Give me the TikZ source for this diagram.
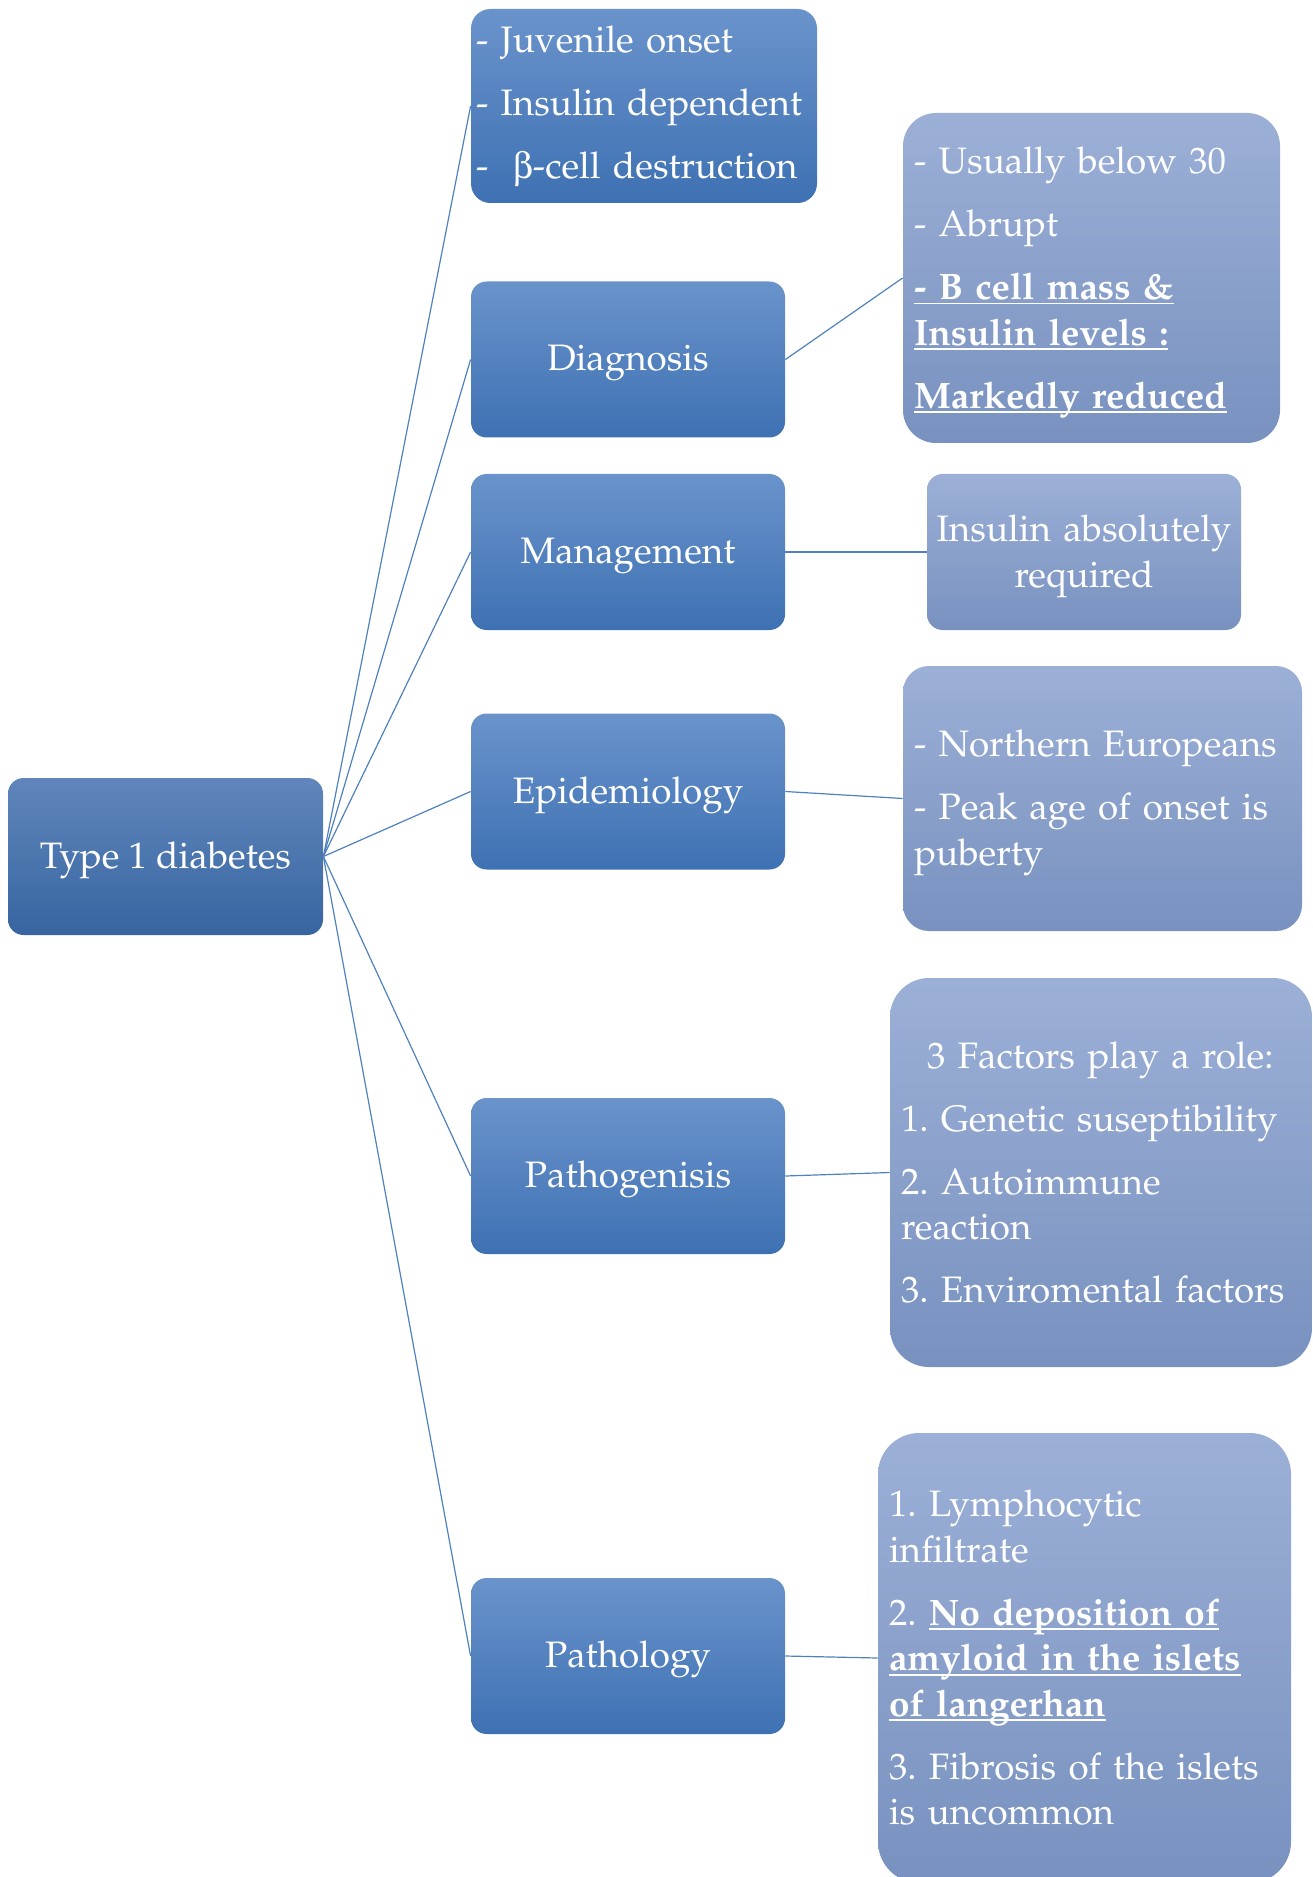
\documentclass[tikz,border=0pt]{standalone}
\usepackage[T1]{fontenc}
\usepackage{mathpazo}
\definecolor{rootTop}{HTML}{6086BC}
\definecolor{rootBot}{HTML}{3765A0}
\definecolor{topicTop}{HTML}{6A93CB}
\definecolor{topicBot}{HTML}{3E71B3}
\definecolor{noteTop}{HTML}{9CB0D7}
\definecolor{noteBot}{HTML}{7891BF}
\definecolor{linkcolor}{HTML}{4F81BD}
% bold underlined text
\newcommand{\bul}[1]{\leavevmode{\bfseries\setbox0\hbox{#1}\rlap{\rule[-2.4pt]{\wd0}{0.9pt}}\box0}}
% upright beta
\newcommand{\upbet}{{\fontencoding{U}\fontfamily{psy}\selectfont b}}
\newcommand{\topstrut}{\rule{0pt}{17.6pt}}

\begin{document}
\begin{tikzpicture}[
  x=1pt, y=-1pt,
  every node/.style={text=white,
    font={\fontsize{18.4}{22.75}\selectfont\frenchspacing\hyphenpenalty=10000}},
  rootbox/.style={rounded corners=7.8pt, top color=rootTop, bottom color=rootBot,
    minimum width=157.5pt, minimum height=78.5pt, inner sep=0pt,
    text height=14pt, text depth=2.5pt},
  topicshade/.style={rounded corners=7.8pt, top color=topicTop, bottom color=topicBot,
    minimum width=157pt, minimum height=78pt, inner sep=0pt},
  topicbox/.style={topicshade, text height=14pt, text depth=2.5pt},
  notebox/.style={top color=noteTop, bottom color=noteBot,
    inner xsep=5.5pt, inner ysep=0pt, align=left},
  link/.style={draw=linkcolor, line width=0.6pt}
]
  \useasboundingbox (0,0) rectangle (656,938.5);
  \clip (0,0) rectangle (656,938.5);

  % root and topics
  \node[rootbox] (root) at (82.75,428.25) {Type 1 diabetes};
  \node[topicshade, minimum width=173pt, minimum height=97pt, text width=168pt,
    inner xsep=2.5pt, rounded corners=9.7pt, align=left] (juv) at (322,53)
    {- Juvenile~onset\\[8.75pt]- Insulin~dependent\\[8.75pt]-\ \ \upbet-cell~destruction};
  \node[topicbox] (diag) at (314,179.75) {Diagnosis};
  \node[topicbox] (mgmt) at (314,276) {Management};
  \node[topicbox] (epi) at (314,395.75) {Epidemiology};
  \node[topicbox] (pgen) at (314,588) {Pathogenisis};
  \node[topicbox] (path) at (314,828) {Pathology};

  % notes
  \node[notebox, minimum width=188.5pt, minimum height=165pt, text width=177.5pt,
    rounded corners=16.5pt] (diagD) at (545.75,139)
    {\topstrut- Usually below 30\\[8.75pt]- Abrupt\\[8.75pt]\bul{- B cell mass \&}\\
     \bul{Insulin levels :}\\[8.75pt]\bul{Markedly reduced}};
  \node[notebox, minimum width=157pt, minimum height=78pt, text width=155pt,
    inner xsep=1pt, rounded corners=7.8pt, align=center] (mgmtD) at (542,276)
    {\topstrut Insulin~absolutely\\required};
  \node[notebox, minimum width=199.5pt, minimum height=132.5pt, text width=188.5pt,
    rounded corners=13pt] (epiD) at (551.25,399.25)
    {\topstrut- Northern Europeans\\[8.75pt]- Peak age of onset is\\puberty};
  \node[notebox, minimum width=211pt, minimum height=194.5pt, text width=200pt,
    rounded corners=19.5pt] (pgenD) at (550.5,586.25)
    {\hspace*{13pt}3 Factors play a role:\\[8.75pt]1. Genetic suseptibility\\[8.75pt]%
     2. Autoimmune\\reaction\\[8.75pt]3. Enviromental factors};
  \node[notebox, minimum width=206.5pt, minimum height=225pt, text width=195.5pt,
    rounded corners=20.6pt] (pathD) at (542.25,829)
    {1. Lymphocytic\\infiltrate\\[8.75pt]2. \bul{No deposition of}\\
     \bul{amyloid in the islets}\\\bul{of langerhan}\\[8.75pt]%
     3. Fibrosis of the islets\\is uncommon};

  % connectors
  \foreach \t in {juv,diag,mgmt,epi,pgen,path}
    \draw[link] (root.east) -- (\t.west);
  \draw[link] (diag.east) -- (diagD.west);
  \draw[link] (mgmt.east) -- (mgmtD.west);
  \draw[link] (epi.east) -- (epiD.west);
  \draw[link] (pgen.east) -- (pgenD.west);
  \draw[link] (path.east) -- (pathD.west);
\end{tikzpicture}
\end{document}
